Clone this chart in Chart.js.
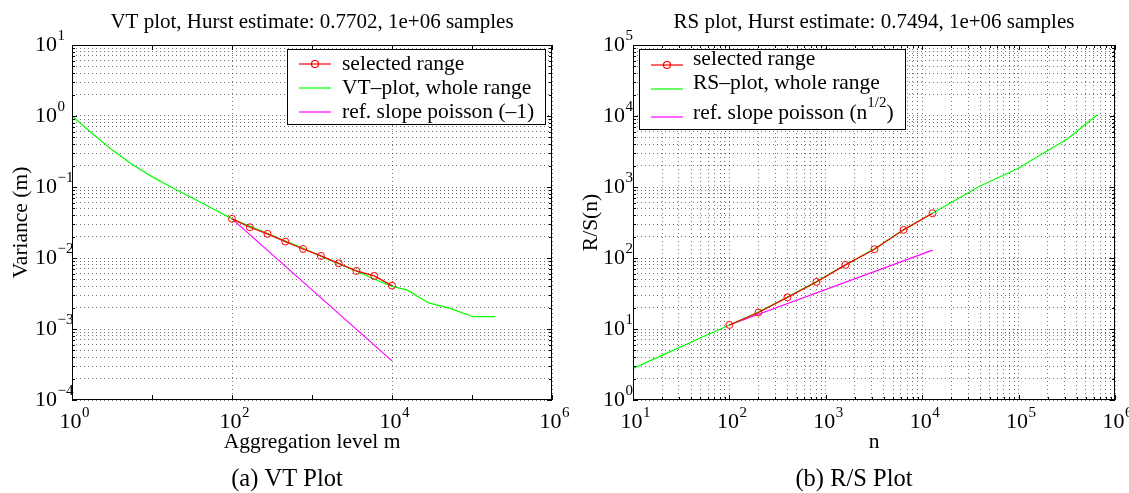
<!DOCTYPE html>
<html>
<head>
<meta charset="utf-8">
<script src="https://cdn.jsdelivr.net/npm/chart.js@4.4.0/dist/chart.umd.min.js"></script>
<style>
    html, body { margin: 0; padding: 0; background: #fff; }
    #wrap { position: relative; width: 1129px; height: 493px; }
    #wrap canvas { position: absolute; left: 0; top: 0; }
</style>
</head>
<body>
<div id="wrap">
    <canvas id="vtChart" width="1129" height="493"></canvas>
    <canvas id="rsChart" width="1129" height="493"></canvas>
</div>
<script>
// VT plot data
const vtSelM = [100, 167, 278, 464, 774, 1292, 2154, 3594, 5995, 10000];
const vtSelVar = [0.0356, 0.0271, 0.0219, 0.0170, 0.0134, 0.0107, 0.00841, 0.00657, 0.00560, 0.00408];
const vtAllM = [1, 1.8, 3.2, 5.6, 10, 18, 32, 56, 100, 200, 400, 800, 1600, 3200, 6400, 10000, 15400, 28700, 53500, 103000, 196000];
const vtAllVar = [1.0, 0.562, 0.331, 0.209, 0.140, 0.0977, 0.0700, 0.0501, 0.0356, 0.0257, 0.0186, 0.0135, 0.00955, 0.00692, 0.0049, 0.00398, 0.00355, 0.00233, 0.00195, 0.00149, 0.00149];
const vtRefM = [100, 10000];
const vtRefVar = [0.0356, 0.000356];

// RS plot data
const rsSelN = [100, 200, 400, 800, 1600, 3200, 6400, 12800];
const rsSelVal = [11.4, 17.1, 27.9, 46.0, 80, 133, 249, 427];
const rsAllN = [10, 20, 50, 100, 200, 400, 800, 1600, 3200, 6400, 12800, 20000, 39500, 97000, 327680, 655360];
const rsAllVal = [2.78, 4.25, 7.45, 11.4, 17.3, 28.2, 46.5, 80.5, 135, 250, 427, 605, 1026, 1807, 4850, 10400];
const rsRefN = [100, 12800];
const rsRefVal = [11.4, 129];

// tick label exponents (labels are 10^e)
const vtXLabelExps = [0, 2, 4, 6];
const vtYLabelExps = [-4, -3, -2, -1, 0, 1];
const rsXLabelExps = [1, 2, 3, 4, 5, 6];
const rsYLabelExps = [0, 1, 2, 3, 4, 5];

const FONT = '"Liberation Serif", "Times New Roman", serif';
const GRID = 'rgba(0,0,0,0.55)';

function pts(xs, ys) {
    return xs.map((x, i) => ({ x: x, y: ys[i] }));
}

// 1..9 x 10^e for every decade in [lo, hi]
function decadeValues(lo, hi, minor) {
    const out = [];
    for (let e = lo; e < hi; e++) {
        for (let k = 1; k < 10; k++) {
            if (k === 1 || minor) out.push({ v: k * Math.pow(10, e), major: k === 1 });
        }
    }
    out.push({ v: Math.pow(10, hi), major: true });
    return out;
}

function drawPow(ctx, x, y, exp, align) {
    const base = '10';
    const sup = exp < 0 ? '\u2212' + Math.abs(exp) : String(exp);
    ctx.font = '22px ' + FONT;
    const bw = ctx.measureText(base).width;
    let left = align === 'center' ? x - bw / 2 : x - bw;
    ctx.textAlign = 'left';
    ctx.textBaseline = 'middle';
    ctx.fillText(base, left, y);
    ctx.font = '15px ' + FONT;
    ctx.fillText(sup, left + bw + 0.5, y - 9);
}

function drawParts(ctx, parts, x, y) {
    let cx = x;
    parts.forEach(p => {
        ctx.font = (p.sup ? '15px ' : '21.5px ') + FONT;
        ctx.fillText(p.t, cx, p.sup ? y - 10 : y);
        cx += ctx.measureText(p.t).width;
    });
}

const decorPlugin = {
    id: 'decor',
    afterDraw(chart, args, o) {
        const ctx = chart.ctx;
        const a = chart.chartArea;
        const xs = chart.scales.x, ys = chart.scales.y;
        ctx.save();
        ctx.fillStyle = '#000';
        ctx.strokeStyle = '#000';
        ctx.lineWidth = 1;

        // tick marks on all four sides
        ctx.beginPath();
        o.xMarks.forEach(m => {
            const px = Math.round(xs.getPixelForValue(m.v)) + 0.5;
            const len = m.major ? 5 : 3;
            ctx.moveTo(px, a.bottom); ctx.lineTo(px, a.bottom - len);
            ctx.moveTo(px, a.top); ctx.lineTo(px, a.top + len);
        });
        o.yMarks.forEach(m => {
            const py = Math.round(ys.getPixelForValue(m.v)) + 0.5;
            const len = m.major ? 5 : 3;
            ctx.moveTo(a.left, py); ctx.lineTo(a.left + len, py);
            ctx.moveTo(a.right, py); ctx.lineTo(a.right - len, py);
        });
        ctx.stroke();
        ctx.strokeRect(a.left + 0.5, a.top + 0.5, a.right - a.left - 1, a.bottom - a.top - 1);

        // tick labels
        o.xLabels.forEach(e => drawPow(ctx, xs.getPixelForValue(Math.pow(10, e)) - 1.5, 422, e, 'center'));
        o.yLabels.forEach(e => drawPow(ctx, o.yLabelRight, ys.getPixelForValue(Math.pow(10, e)), e, 'right'));

        // title, axis titles, caption
        const cx = (a.left + a.right) / 2;
        ctx.textAlign = 'center';
        ctx.textBaseline = 'middle';
        ctx.font = '21px ' + FONT;
        ctx.fillText(o.title, cx, 22);
        ctx.font = '21.5px ' + FONT;
        ctx.fillText(o.xTitle, cx, 442);
        ctx.save();
        ctx.translate(o.yTitleX, (a.top + a.bottom) / 2);
        ctx.rotate(-Math.PI / 2);
        ctx.fillText(o.yTitle, 0, 0);
        ctx.restore();
        ctx.font = '24.5px ' + FONT;
        ctx.fillText(o.caption, o.captionX, 480);

        // legend
        const L = o.legend;
        ctx.fillStyle = '#fff';
        ctx.fillRect(L.x, L.y, L.w, L.h);
        ctx.strokeStyle = '#000';
        ctx.strokeRect(L.x + 0.5, L.y + 0.5, L.w - 1, L.h - 1);
        chart.data.datasets.forEach((ds, i) => {
            const ly = L.lineY[i];
            ctx.strokeStyle = ds.borderColor;
            ctx.lineWidth = 1.2;
            ctx.beginPath();
            ctx.moveTo(L.lineX0, ly); ctx.lineTo(L.lineX1, ly);
            ctx.stroke();
            if (ds.pointRadius > 0) {
                ctx.beginPath();
                ctx.arc((L.lineX0 + L.lineX1) / 2, ly, 3.5, 0, Math.PI * 2);
                ctx.stroke();
            }
            ctx.fillStyle = '#000';
            ctx.textAlign = 'left';
            ctx.textBaseline = 'middle';
            drawParts(ctx, L.labels[i], L.textX, L.textY[i]);
        });
        ctx.restore();
    }
};

function makeChart(id, c) {
    const scale = (min, max, gridVals) => ({
        type: 'logarithmic',
        min: min,
        max: max,
        bounds: 'data',
        ticks: { display: false },
        grid: { color: GRID, lineWidth: 1, drawTicks: false },
        border: { display: false, dash: [1, 3] },
        afterBuildTicks: s => { s.ticks = gridVals.map(v => ({ value: v })); }
    });
    return new Chart(document.getElementById(id), {
        type: 'scatter',
        data: { datasets: c.datasets },
        options: {
            responsive: false,
            animation: false,
            layout: { padding: c.padding },
            plugins: {
                legend: { display: false },
                tooltip: { enabled: false },
                decor: c.decor
            },
            scales: {
                x: scale(c.xMin, c.xMax, c.xGrid),
                y: scale(c.yMin, c.yMax, c.yGrid)
            }
        },
        plugins: [decorPlugin]
    });
}

function lineSet(label, xs, ys, color, withPoints, order) {
    return {
        label: label,
        data: pts(xs, ys),
        showLine: true,
        borderColor: color,
        borderWidth: 1.2,
        backgroundColor: color,
        pointRadius: withPoints ? 3.5 : 0,
        pointBorderColor: color,
        pointBackgroundColor: 'rgba(0,0,0,0)',
        pointBorderWidth: 1,
        order: order
    };
}

makeChart('vtChart', {
    padding: { left: 72, right: 577, top: 45, bottom: 93 },
    xMin: 1, xMax: 1e6, yMin: 1e-4, yMax: 10,
    xGrid: vtXLabelExps.map(e => Math.pow(10, e)),
    yGrid: decadeValues(-4, 1, true).map(m => m.v),
    datasets: [
        lineSet('selected range', vtSelM, vtSelVar, '#ff0000', true, 0),
        lineSet('VT\u2013plot, whole range', vtAllM, vtAllVar, '#00ff00', false, 1),
        lineSet('ref. slope poisson (\u20131)', vtRefM, vtRefVar, '#ff00ff', false, 2)
    ],
    decor: {
        title: 'VT plot, Hurst estimate: 0.7702, 1e+06 samples',
        xTitle: 'Aggregation level m',
        yTitle: 'Variance (m)',
        yTitleX: 21,
        caption: '(a) VT Plot',
        captionX: 287,
        xLabels: vtXLabelExps,
        yLabels: vtYLabelExps,
        yLabelRight: 57,
        xMarks: decadeValues(0, 6, false),
        yMarks: decadeValues(-4, 1, true),
        legend: {
            x: 287, y: 49, w: 259, h: 76,
            lineX0: 299, lineX1: 331, textX: 342,
            lineY: [64, 88, 112], textY: [64, 88, 112],
            labels: [
                [{ t: 'selected range' }],
                [{ t: 'VT\u2013plot, whole range' }],
                [{ t: 'ref. slope poisson (\u20131)' }]
            ]
        }
    }
});

makeChart('rsChart', {
    padding: { left: 633, right: 14, top: 45, bottom: 93 },
    xMin: 10, xMax: 1e6, yMin: 1, yMax: 1e5,
    xGrid: decadeValues(1, 6, true).map(m => m.v),
    yGrid: decadeValues(0, 5, true).map(m => m.v),
    datasets: [
        lineSet('selected range', rsSelN, rsSelVal, '#ff0000', true, 0),
        lineSet('RS\u2013plot, whole range', rsAllN, rsAllVal, '#00ff00', false, 1),
        lineSet('ref. slope poisson (n1/2)', rsRefN, rsRefVal, '#ff00ff', false, 2)
    ],
    decor: {
        title: 'RS plot, Hurst estimate: 0.7494, 1e+06 samples',
        xTitle: 'n',
        yTitle: 'R/S(n)',
        yTitleX: 591,
        caption: '(b) R/S Plot',
        captionX: 854,
        xLabels: rsXLabelExps,
        yLabels: rsYLabelExps,
        yLabelRight: 625,
        xMarks: decadeValues(1, 6, true),
        yMarks: decadeValues(0, 5, true),
        legend: {
            x: 639, y: 49, w: 267, h: 81,
            lineX0: 651, lineX1: 683, textX: 693,
            lineY: [65, 89, 117], textY: [59, 83, 113],
            labels: [
                [{ t: 'selected range' }],
                [{ t: 'RS\u2013plot, whole range' }],
                [{ t: 'ref. slope poisson (n' }, { t: '1/2', sup: true }, { t: ')' }]
            ]
        }
    }
});
</script>
</body>
</html>
